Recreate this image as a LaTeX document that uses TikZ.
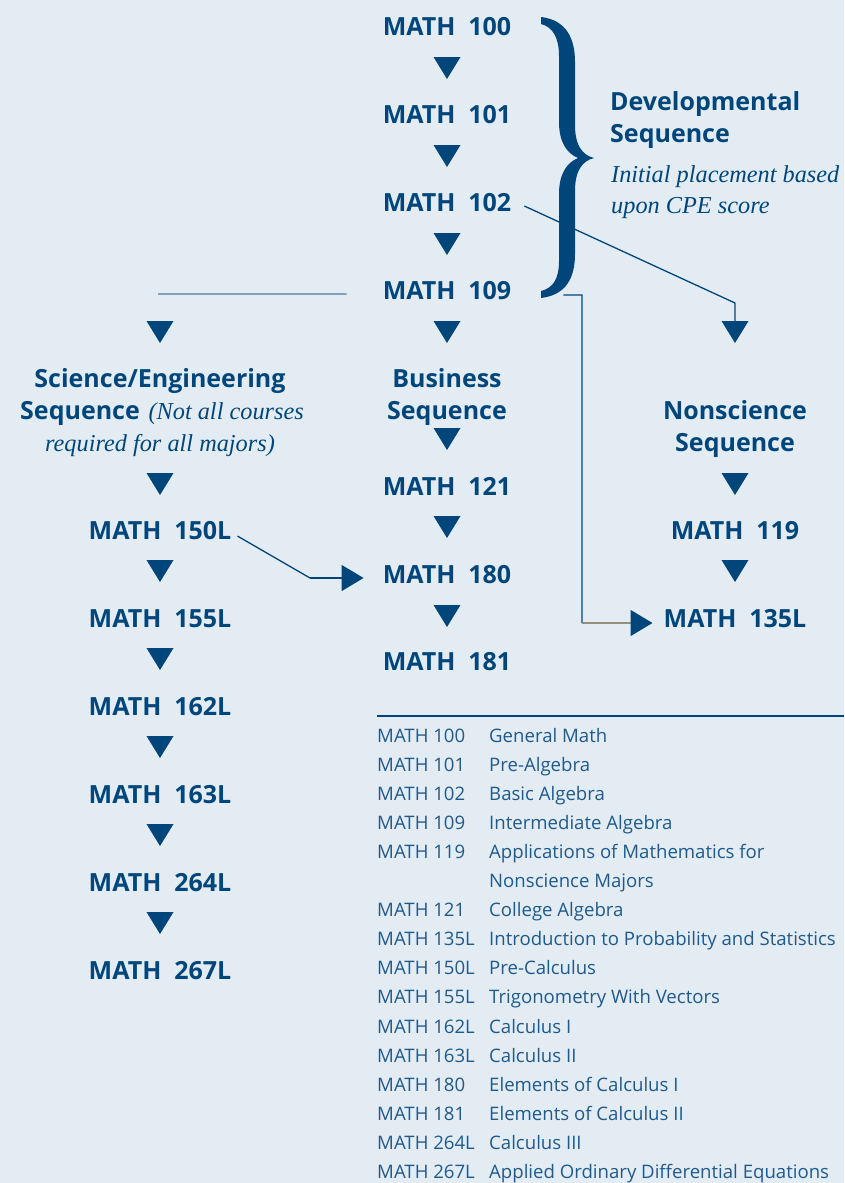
\documentclass[tikz,border=0pt]{standalone}
\usepackage{fontspec}
\setmainfont{Open Sans}
\newfontfamily\coursefont{Open Sans}[WordSpace=2]
\newfontfamily\seritf{Liberation Serif}
\usetikzlibrary{calc,arrows.meta}
\definecolor{bg}{HTML}{E4ECF3}
\definecolor{navy}{HTML}{00467A}
\definecolor{legc}{HTML}{1F5A8C}
\definecolor{midblue}{HTML}{4A79A3}
\definecolor{taupe}{HTML}{9A8E7A}
\begin{document}
\begin{tikzpicture}[x=1pt,y=-1pt,
  title/.style={font=\fontsize{25}{32}\selectfont\bfseries, text=navy, inner sep=0pt, anchor=base},
  course/.style={font=\coursefont\fontsize{25}{32}\selectfont\bfseries, text=navy, inner sep=0pt, anchor=base},
  note/.style={font=\seritf\itshape\fontsize{24.3}{32}\selectfont, text=navy, inner sep=0pt, anchor=base},
  leg/.style={font=\fontsize{18.6}{24}\selectfont, text=legc, inner sep=0pt, anchor=base west},
  conn/.style={draw=navy, line width=1.3pt},
  tipr/.style={-{Triangle[length=22pt,width=26pt,color=navy]}},
  dtri/.pic={\fill[navy] (-13.5,-11) -- (13.5,-11) -- (0,11) -- cycle;}
]
\fill[bg] (0,0) rectangle (844,1183);
\useasboundingbox (0,0) rectangle (844,1183);

% centre column
\node[course] (m100) at (447,35) {MATH 100};
\node[course] (m101) at (447,123) {MATH 101};
\node[course] (m102) at (447,211) {MATH 102};
\node[course] (m109) at (447,299) {MATH 109};
\node[title] (busA) at (447,387) {Business};
\node[title] (busB) at (447,419) {Sequence};
\node[course] (m121) at (447,495) {MATH 121};
\node[course] (m180) at (447,583) {MATH 180};
\node[course] (m181) at (447,670) {MATH 181};
\foreach \y in {68,156,244,332,439,527,616} \pic at (447,\y) {dtri};

% left column
\node[title] (sciA) at (160,387) {Science/Engineering};
\node[title, anchor=base west] (sciB) at (20,419) {Sequence\hspace{0.35em}{\seritf\itshape\mdseries\fontsize{24.3}{32}\selectfont(Not all courses}};
\node[note] (sciC) at (160,451) {required for all majors)};
\node[course] (m150) at (160,539) {MATH 150L};
\node[course] (m155) at (160,627) {MATH 155L};
\node[course] (m162) at (160,715) {MATH 162L};
\node[course] (m163) at (160,803) {MATH 163L};
\node[course] (m264) at (160,891) {MATH 264L};
\node[course] (m267) at (160,979) {MATH 267L};
\foreach \y in {332,484,571,659,747,835,923} \pic at (160,\y) {dtri};

% right column
\node[title] (nsA) at (735,419) {Nonscience};
\node[title] (nsB) at (735,451) {Sequence};
\node[course] (m119) at (735,539) {MATH 119};
\node[course] (m135) at (735,627) {MATH 135L};
\foreach \y in {332,484,571} \pic at (735,\y) {dtri};

% developmental brace and label
\fill[navy] (541,17) .. controls (566,20) and (575,38) .. (575,62)
  -- (575,125) .. controls (575,145) and (582,155) .. (594,158)
  .. controls (582,161) and (575,171) .. (575,191)
  -- (575,254) .. controls (575,278) and (566,295) .. (541,298)
  -- (541,291) .. controls (553,288) and (559,279) .. (559,261)
  -- (559,194) .. controls (559,175) and (566,163) .. (578,158)
  .. controls (566,153) and (559,141) .. (559,122)
  -- (559,56) .. controls (559,38) and (553,27) .. (541,24) -- cycle;
\node[title, anchor=base west] (devA) at (610,110) {Developmental};
\node[title, anchor=base west] (devB) at (610,142) {Sequence};
\node[note, anchor=base west] (devC) at (611,182) {Initial placement based};
\node[note, anchor=base west] (devD) at (611,213) {upon CPE score};

% connectors
\coordinate (nsTop) at (735,321);
\draw[conn] ($(m102.east)+(13,4)$) -- (735,303) -- (nsTop);
\coordinate (b1) at (582,295);
\coordinate (b2) at (582,623);
\draw[conn] ($(m109.east)+(52,5)$) -- (b1) -- (b2);
\draw[draw=taupe, line width=1.3pt, tipr, shorten >=11pt] (b2) -- (b2 -| m135.west);
\coordinate (k1) at (310,578);
\draw[conn] ($(m150.east)+(6,6)$) -- (k1);
\draw[conn, tipr, shorten >=19pt] (k1) -- (k1 -| m180.west);
\coordinate (sciL) at (158,294);
\draw[draw=midblue, line width=1.3pt] (sciL) -- ($(m109.west)+(-36,4)$);

% legend
\coordinate (legL) at (377,716);
\coordinate (legR) at (844,716);
\draw[navy, line width=1.5pt] (legL) -- (legR);
\foreach \c/\d [count=\i from 0] in {MATH 100/General Math, MATH 101/Pre-Algebra, MATH 102/Basic Algebra, MATH 109/Intermediate Algebra, MATH 119/Applications of Mathematics for, /Nonscience Majors, MATH 121/College Algebra, MATH 135L/Introduction to Probability and Statistics, MATH 150L/Pre-Calculus, MATH 155L/Trigonometry With Vectors, MATH 162L/Calculus I, MATH 163L/Calculus II, MATH 180/Elements of Calculus I, MATH 181/Elements of Calculus II, MATH 264L/Calculus III, MATH 267L/Applied Ordinary Differential Equations} {
  \node[leg] (lc\i) at (377,{742+29.1*\i}) {\c};
  \node[leg] (ld\i) at (489,{742+29.1*\i}) {\d};
}
\end{tikzpicture}
\end{document}
